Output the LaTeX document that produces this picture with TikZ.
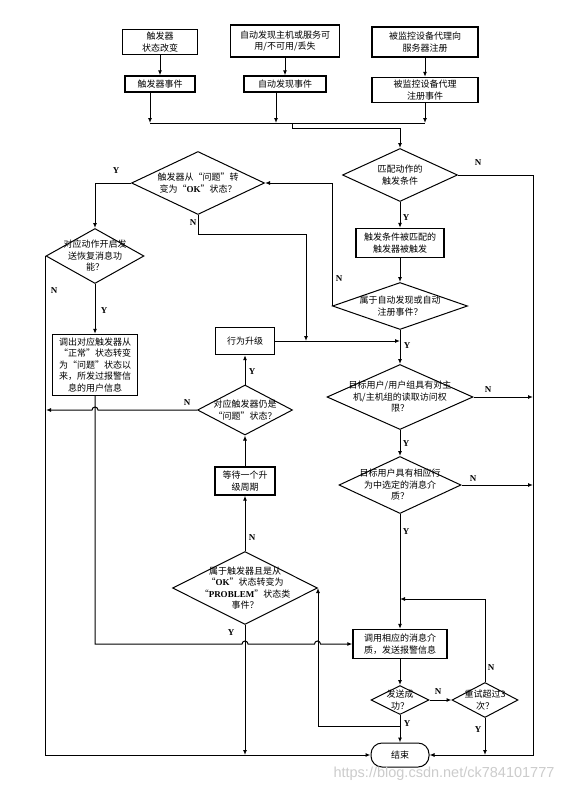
\documentclass[tikz,border=0pt]{standalone}
\usepackage{fontspec}
\setmainfont{Liberation Serif}
\newfontfamily\cjk{Noto Sans CJK SC}
\newfontfamily\wmfont{Liberation Sans}
\usetikzlibrary{shapes.geometric,arrows.meta,calc}
\tikzset{
  box/.style={draw, line width=1.3pt, fill=white, inner sep=1pt, align=center,
    font=\cjk\fontsize{9}{11.5}\selectfont},
  dia/.style={draw, diamond, line width=1pt, inner sep=0pt},
  txt/.style={align=center, inner sep=0pt, font=\cjk\fontsize{9}{11.5}\selectfont},
  con/.style={line width=1pt, -{Latex[length=5pt,width=4pt]}},
  ln/.style={line width=1pt},
  yn/.style={inner sep=0pt, font=\bfseries\fontsize{9}{10}\selectfont},
}
\newcommand{\lat}[1]{{\rmfamily\bfseries #1}}
\begin{document}
\begin{tikzpicture}[x=1pt,y=-1pt]
\useasboundingbox[fill=white] (0,0) rectangle (574,792);

% top boxes
\node[box, minimum width=75pt, minimum height=25pt] (a) at (160,42) {触发器\\状态改变};
\node[box, minimum width=109pt, minimum height=32pt] (b) at (285,41) {自动发现主机或服务可\\用/不可用/丢失};
\node[box, minimum width=106pt, minimum height=30pt] (c) at (425,42) {被监控设备代理向\\服务器注册};
\node[box, minimum width=70pt, minimum height=16pt] (a2) at (160,84) {触发器事件};
\node[box, minimum width=82pt, minimum height=16pt] (b2) at (285,84) {自动发现事件};
\node[box, minimum width=106pt, minimum height=25pt] (c2) at (425,90) {被监控设备代理\\注册事件};

\draw[con] (a) -- (a2);
\draw[con] (b) -- (b2);
\draw[con] (c) -- (c2);

\coordinate (mA) at (150,123);
\coordinate (mB) at (276,123);
\coordinate (mC) at (425,123);
\coordinate (mJ) at (292,123);
\coordinate (mJ2) at (292,128);
\coordinate (mJ3) at (400,128);
\draw[ln] (mA) -- (mC);
\draw[con] ($(a2.south)+(-10pt,0)$) -- (mA);
\draw[con] ($(b2.south)+(-9pt,0)$) -- (mB);
\draw[con] (c2.south) -- (mC);

% right column
\node[dia, minimum width=115pt, minimum height=53pt] (d1) at (400,175) {};
\node[txt] at (d1) {匹配动作的\\触发条件};
\draw[con] (mJ) -- (mJ2) -- (mJ3) -- (d1.north);

\node[box, minimum width=88pt, minimum height=29pt] (t) at (400,243) {触发条件被匹配的\\触发器被触发};
\node[dia, minimum width=135pt, minimum height=47pt] (d2) at (400,306) {};
\node[txt] at (d2) {属于自动发现或自动\\注册事件？};
\node[dia, minimum width=146pt, minimum height=65pt] (d5) at (400,397) {};
\node[txt] at (d5) {目标用户/用户组具有对主\\机/主机组的读取访问权\\限？};
\node[dia, minimum width=122pt, minimum height=57pt] (d5b) at (400,485) {};
\node[txt] at (d5b) {目标用户具有相应行\\为中选定的消息介\\质？};
\node[box, minimum width=94pt, minimum height=29pt] (f) at (400,644) {调用相应的消息介\\质，发送报警信息};
\node[dia, minimum width=58pt, minimum height=29pt] (d8) at (400,700) {};
\node[txt] at (d8) {发送成\\功？};
\node[dia, minimum width=66pt, minimum height=35pt] (d9) at (485,700) {};
\node[txt] at (d9) {重试超过3\\次？};
\node[box, line width=1pt, rounded corners=11pt, minimum width=58pt, minimum height=24pt] (end) at (400,755) {结束};

% left part
\node[dia, minimum width=133pt, minimum height=63pt] (d3) at (198,183) {};
\node[txt] at (d3) {触发器从“问题”转\\变为“\lat{OK}”状态？};
\node[dia, minimum width=98pt, minimum height=55pt] (d4) at (95,256) {};
\node[txt] at (d4) {对应动作开启发\\送恢复消息功\\能？};
\node[box, minimum width=85pt, minimum height=61pt] (e) at (95,365) {调出对应触发器从\\“正常”状态转变\\为“问题”状态以\\来，所发过报警信\\息的用户信息};
\node[box, minimum width=59pt, minimum height=27pt] (up) at (245,341) {行为升级};
\node[dia, minimum width=95pt, minimum height=50pt] (d6) at (245,410) {};
\node[txt] at (d6) {对应触发器仍是\\“问题”状态？};
\node[box, minimum width=60pt, minimum height=28pt] (wt) at (245,481) {等待一个升\\级周期};
\node[dia, minimum width=145pt, minimum height=73pt] (d7) at (245,588) {};
\node[txt] at (d7) {属于触发器且是从\\“\lat{OK}”状态转变为\\“\lat{PROBLEM}”状态类\\事件？};

% connectors right column
\coordinate (r1) at (533,175);
\coordinate (r2) at (533,755);
\draw[con] (d1.east) -- (r1) -- (r2) -- (end.east);
\node[yn] at (478,163) {N};
\draw[con] (d1.south) -- (t.north);
\node[yn] at (406,218) {Y};
\draw[con] (t.south) -- (d2.north);
\draw[con] (d2.south) -- (d5.north);
\node[yn] at (407,346) {Y};
\draw[con] (d5.east) -- (d5.east -| r1);
\node[yn] at (488,390) {N};
\draw[con] (d5.south) -- (d5b.north);
\node[yn] at (406,444) {Y};
\draw[con] (d5b.east) -- (d5b.east -| r1);
\node[yn] at (473,479) {N};
\draw[con] (d5b.south) -- (f.north);
\node[yn] at (406,532) {Y};
\draw[con] (f.south) -- (d8.north);
\draw[con] (d8.east) -- (d9.west);
\node[yn] at (438,692) {N};
\coordinate (rt) at (400,599);
\draw[con] (d9.north) |- (rt);
\node[yn] at (491,668) {N};
\coordinate (y9) at (485,755);
\draw[con] (d9.south) -- (y9);
\node[yn] at (478,730) {Y};
\draw[con] (d8.south) -- (end.north);
\node[yn] at (407,724) {Y};
\coordinate (s1) at (400,726);
\draw[con] (s1) -| (d7.east);

% D2 N -> D3
\coordinate (n2) at (332,183);
\draw[con] (d2.west) -- (n2) -- (d3.east);
\node[yn] at (339,279) {N};

% D3 Y -> D4
\draw[con] (d3.west) -| (d4.north);
\node[yn] at (116,171) {Y};

% D3 N -> junction
\coordinate (k1) at (198,234);
\coordinate (k2) at (306,234);
\coordinate (j1) at (306,341);
\draw[con] (d3.south) -- (k1) -- (k2) -- (j1);
\node[yn] at (193,223) {N};
\coordinate (j2) at (400,341);
\draw[con] (up.east) -- (j2);

% D4 N -> end
\draw[con] (d4.west) |- (end.west);
\node[yn] at (54,291) {N};
% D4 Y -> E
\draw[con] (d4.south) -- (e.north);
\node[yn] at (104,311) {Y};

% E -> F with jumps
\draw[con] (e.south) -- (95,644) -- (242,644) arc[start angle=180,end angle=0,radius=3pt]
  -- (314.5,644) arc[start angle=180,end angle=0,radius=3pt] -- (f.west);

% D6
\draw[con] (d6.west) -- (98,410) arc[start angle=0,end angle=180,radius=3pt] -- (46,410);
\node[yn] at (187,403) {N};
\draw[con] (d6.north) -- (up.south);
\node[yn] at (252,372) {Y};
\draw[con] (wt.north) -- (d6.south);
\draw[con] (d7.north) -- (wt.south);
\node[yn] at (252,538) {N};
\coordinate (y7) at (245,755);
\draw[con] (d7.south) -- (y7);
\node[yn] at (231,633) {Y};

% watermark
\node[inner sep=0pt, text=gray!40, font=\wmfont\fontsize{14.5}{14.5}\selectfont] at (444,774) {https://blog.csdn.net/ck784101777};
\end{tikzpicture}
\end{document}
